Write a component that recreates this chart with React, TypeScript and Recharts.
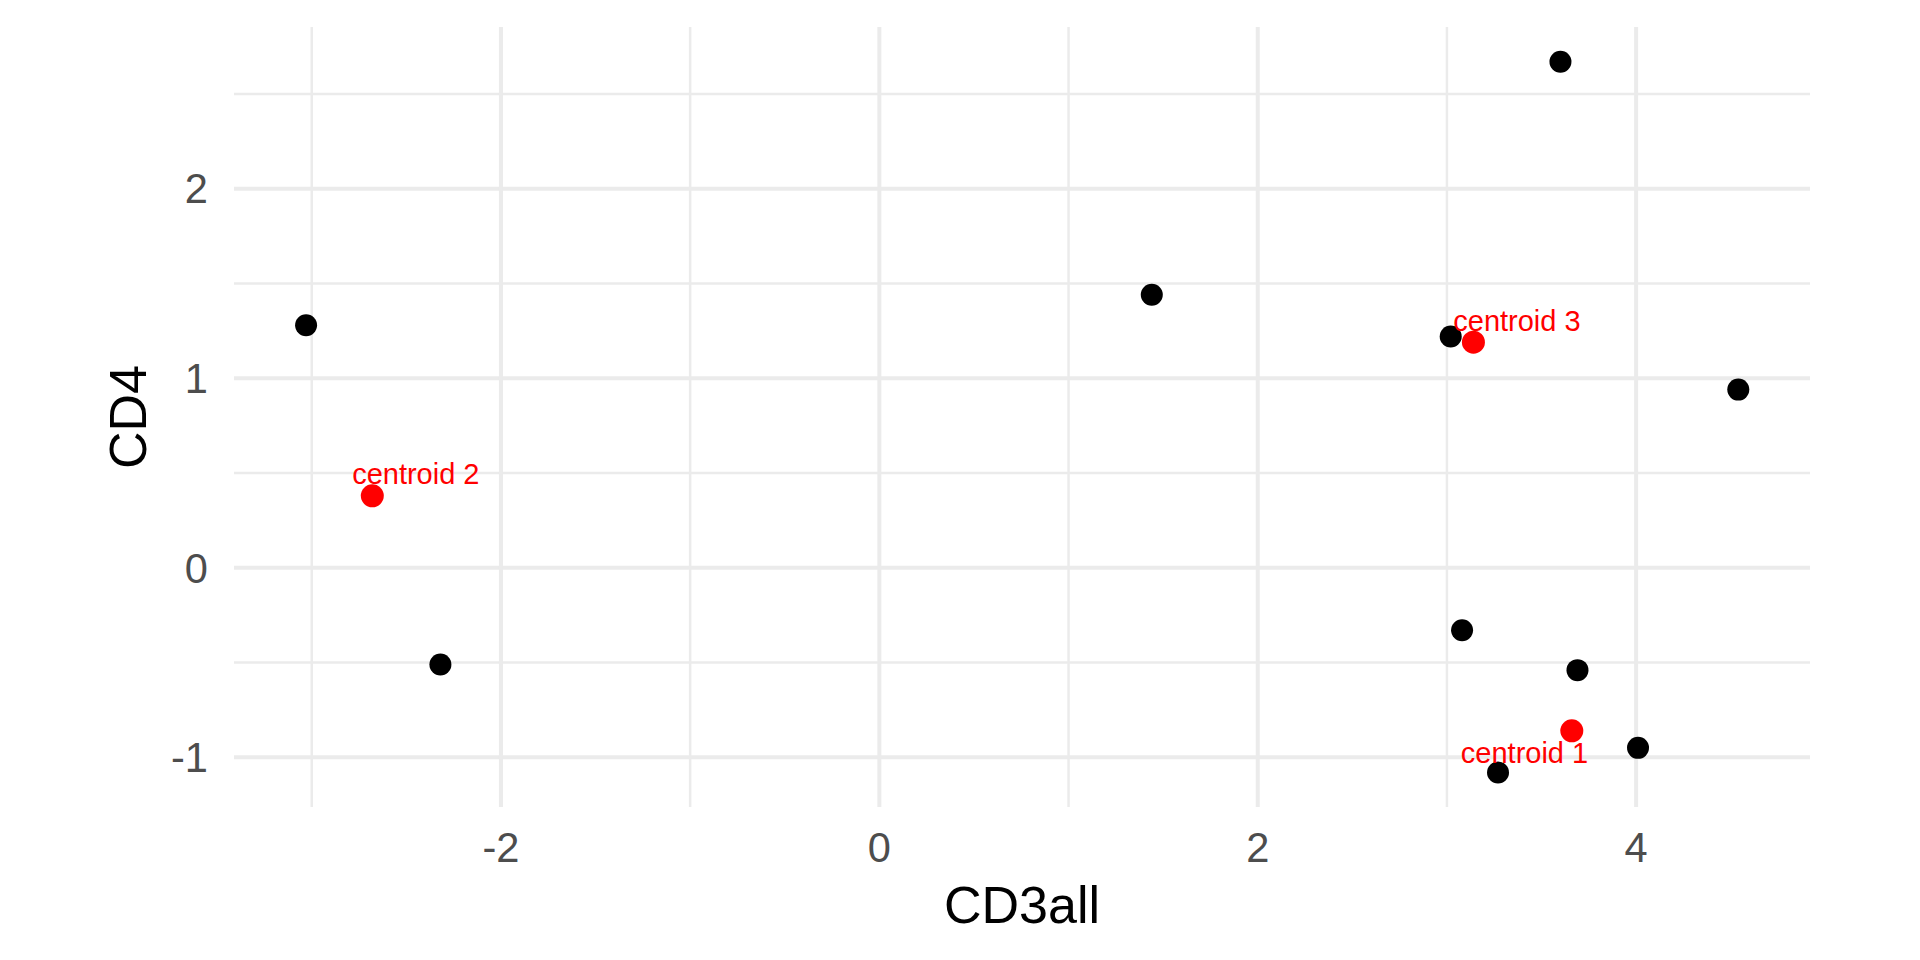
import { CartesianGrid, Label, Scatter, ScatterChart, XAxis, YAxis } from 'recharts';

// observed cells
const cd3all = [-3.03, -2.32, 1.44, 3.02, 3.6, 4.54, 3.08, 3.69, 4.01, 3.27];
const cd4 = [1.28, -0.51, 1.44, 1.22, 2.67, 0.94, -0.33, -0.54, -0.95, -1.08];

// k-means centres
const centroidNames = ['centroid 1', 'centroid 2', 'centroid 3'];
const centroidX = [3.66, -2.68, 3.14];
const centroidY = [-0.86, 0.38, 1.19];

// where the (repelled) labels sit, in data units
const labelX = [3.41, -2.45, 3.37];
const labelY = [-1.03, 0.44, 1.25];

const xTicks = [-2, 0, 2, 4];
const xMinor = [-3, -1, 1, 3];
const yTicks = [-1, 0, 1, 2];
const yMinor = [-0.5, 0.5, 1.5, 2.5];

const font = '"Liberation Sans", Arial, Helvetica, sans-serif';
const gridColor = '#EBEBEB';

const cells = cd3all.map((x, i) => ({ x, y: cd4[i] }));
const centroids = centroidNames.map((name, i) => ({ name, x: centroidX[i], y: centroidY[i] }));
const labels = centroidNames.map((name, i) => ({ name, x: labelX[i], y: labelY[i] }));

const BlackDot = (props: any) =>
  props.cx == null ? null : <circle cx={props.cx} cy={props.cy} r={11} fill="#000000" />;

const RedDot = (props: any) =>
  props.cx == null ? null : <circle cx={props.cx} cy={props.cy} r={11.5} fill="#FF0000" />;

const CentroidText = (props: any) => {
  const { cx, cy, payload } = props;
  if (cx == null || cy == null) return null;
  return (
    <text x={cx} y={cy} textAnchor="middle" fill="#FF0000" fontSize={29} fontFamily={font}>
      {payload.name}
    </text>
  );
};

export default function App() {
  return (
    <div style={{ position: 'absolute', left: 0, top: 0, width: 1920, height: 960, background: '#fff' }}>
      <ScatterChart
        width={1920}
        height={960}
        margin={{ top: 27, right: 110, bottom: 33, left: 21 }}
        style={{ fontFamily: font }}
      >
        <CartesianGrid
          stroke={gridColor}
          strokeWidth={2.5}
          horizontalValues={yMinor}
          verticalValues={xMinor}
        />
        <CartesianGrid
          stroke={gridColor}
          strokeWidth={4}
          horizontalValues={yTicks}
          verticalValues={xTicks}
        />
        <XAxis
          type="number"
          dataKey="x"
          domain={[-3.411, 4.919]}
          ticks={xTicks}
          allowDataOverflow
          axisLine={false}
          tickLine={false}
          tickSize={6}
          tickMargin={19}
          height={120}
          tick={{ fill: '#4D4D4D', fontSize: 41.6, fontFamily: font }}
        >
          <Label value="CD3all" position="insideBottom" offset={4} fill="#000" fontSize={52} fontFamily={font} />
        </XAxis>
        <YAxis
          type="number"
          dataKey="y"
          domain={[-1.262, 2.853]}
          ticks={yTicks}
          allowDataOverflow
          axisLine={false}
          tickLine={false}
          tickSize={6}
          tickMargin={20}
          width={213}
          tick={{ fill: '#4D4D4D', fontSize: 41.6, fontFamily: font }}
        >
          <Label value="CD4" angle={-90} position="center" fill="#000" fontSize={52} fontFamily={font} />
        </YAxis>
        <Scatter name="cells" data={cells} isAnimationActive={false} shape={BlackDot} />
        <Scatter name="centroids" data={centroids} isAnimationActive={false} shape={RedDot} />
        <Scatter name="labels" data={labels} isAnimationActive={false} shape={CentroidText} />
      </ScatterChart>
    </div>
  );
}
